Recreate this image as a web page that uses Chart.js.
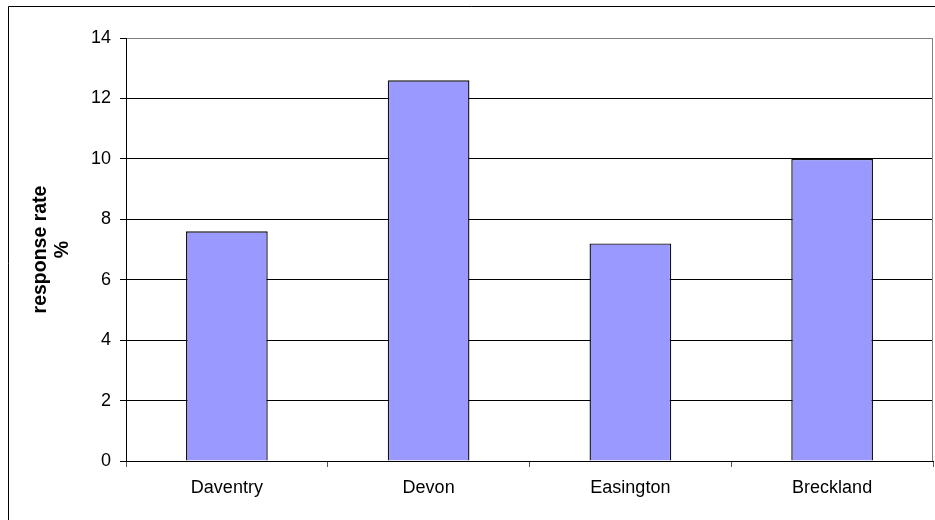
<!DOCTYPE html>
<html>
<head>
<meta charset="utf-8">
<script src="https://cdn.jsdelivr.net/npm/chart.js@4/dist/chart.umd.min.js"></script>
<style>
  html, body { margin: 0; padding: 0; background: #fff; overflow: hidden; }
  #wrap { width: 935px; height: 520px; }
</style>
</head>
<body>
<div id="wrap"><canvas id="chart-bar-rate" width="935" height="520"></canvas></div>
<script>
var districts = ["Daventry", "Devon", "Easington", "Breckland"];
var responseRate = [7.6, 12.6, 7.2, 10.0];
var yTitle = ["response rate", "%"];
var yMax = 14;
var yStep = 2;

// outer frame + grey plot border (right side)
var framePlugin = {
  id: "frame",
  beforeDraw: function (chart) {
    var ctx = chart.ctx;
    ctx.save();
    ctx.fillStyle = "#fff";
    ctx.fillRect(0, 0, chart.width, chart.height);
    ctx.strokeStyle = "#000";
    ctx.lineWidth = 1;
    ctx.beginPath();
    ctx.moveTo(8.5, chart.height);
    ctx.lineTo(8.5, 6.5);
    ctx.lineTo(chart.width, 6.5);
    ctx.stroke();
    ctx.restore();
  },
  afterDatasetsDraw: function (chart) {
    var a = chart.chartArea;
    var ctx = chart.ctx;
    ctx.save();
    ctx.strokeStyle = "#808080";
    ctx.lineWidth = 1;
    ctx.beginPath();
    ctx.moveTo(Math.round(a.right) - 0.5, a.bottom);
    ctx.lineTo(Math.round(a.right) - 0.5, a.top);
    ctx.stroke();
    ctx.restore();
  }
};

var canvas = document.getElementById("chart-bar-rate").getContext("2d");
new Chart(canvas, {
  type: "bar",
  data: {
    labels: districts,
    datasets: [{
      data: responseRate,
      backgroundColor: "#9999FF",
      borderColor: "#111",
      borderWidth: 1.4,
      barPercentage: 0.405,
      categoryPercentage: 1
    }]
  },
  options: {
    responsive: false,
    animation: false,
    devicePixelRatio: 1,
    layout: { padding: { left: 8, top: 38, right: 2, bottom: 0 } },
    plugins: { legend: { display: false }, tooltip: { enabled: false } },
    scales: {
      x: {
        offset: true,
        grid: { offset: true, drawOnChartArea: false, drawTicks: true, tickLength: 6, color: "#555" },
        border: { color: "#000", width: 1 },
        ticks: { color: "#000", padding: 10, font: { family: "Liberation Sans, Arial", size: 18 } },
        afterFit: function (scale) { scale.height = 59; }
      },
      y: {
        min: 0,
        max: yMax,
        grid: {
          tickLength: 6,
          color: function (c) { return c.tick && c.tick.value === yMax ? "#808080" : "#000"; },
          tickColor: "#000"
        },
        border: { color: "#000", width: 1 },
        ticks: { stepSize: yStep, color: "#000", padding: 9, font: { family: "Liberation Sans, Arial", size: 18 } },
        title: {
          display: true,
          text: yTitle,
          color: "#000",
          padding: { top: 22, bottom: 0 },
          font: { family: "Liberation Sans, Arial", size: 19.5, weight: "bold", lineHeight: 1.13 }
        },
        afterFit: function (scale) { scale.width = 118; }
      }
    }
  },
  plugins: [framePlugin]
});
</script>
</body>
</html>
